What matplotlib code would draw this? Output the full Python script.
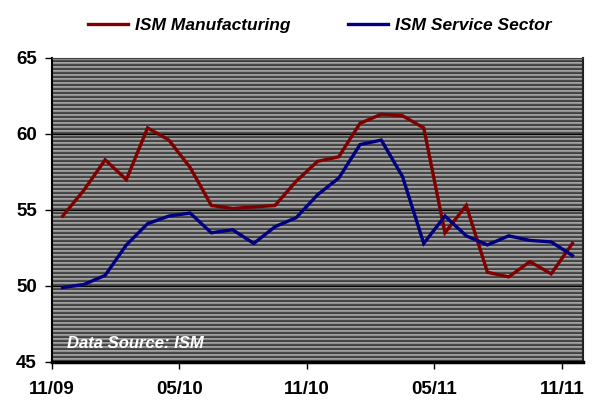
import numpy as np
import matplotlib
matplotlib.use("Agg")
import matplotlib.pyplot as plt

plt.rcParams['font.family'] = ['Liberation Sans', 'DejaVu Sans']

# monthly readings, Nov 2009 .. Nov 2011
manufacturing = [54.6, 56.3, 58.3, 57.0, 60.4, 59.6, 57.8, 55.3, 55.1, 55.2,
                 55.3, 56.9, 58.2, 58.5, 60.7, 61.3, 61.2, 60.4, 53.5, 55.3,
                 50.9, 50.6, 51.6, 50.8, 52.8]
services = [49.9, 50.1, 50.7, 52.7, 54.1, 54.6, 54.8, 53.5, 53.7, 52.8,
            53.9, 54.5, 56.0, 57.1, 59.3, 59.6, 57.2, 52.8, 54.6, 53.3,
            52.7, 53.3, 53.0, 52.9, 52.0]
tick_labels = ['11/09', '05/10', '11/10', '05/11', '11/11']

fig = plt.figure(figsize=(5.98, 4.0), dpi=100)
ax = fig.add_axes([0.087, 0.095, 0.888, 0.76])

# striped grey plot background
pattern = np.array([0.64, 0.56, 0.30, 0.25])
stripes = np.tile(pattern, 76)[:, None]
ax.imshow(stripes, cmap='gray', vmin=0, vmax=1, aspect='auto',
          extent=[0, 1, 0, 1], transform=ax.transAxes,
          interpolation='nearest', zorder=0)

for yv in [50, 55, 60]:
    ax.axhline(yv, color='black', lw=0.8, zorder=1)

x = np.arange(len(manufacturing))
ax.plot(x, manufacturing, color='#800000', lw=2.4, label='ISM Manufacturing',
        zorder=3, solid_joinstyle='miter')
ax.plot(x, services, color='#000080', lw=2.4, label='ISM Service Sector',
        zorder=3, solid_joinstyle='miter')

ax.set_xlim(-0.5, len(x) - 0.5)
ax.set_ylim(45, 65)
ax.set_yticks([45, 50, 55, 60, 65])
ax.set_xticks([-0.5, 5.5, 11.5, 17.5, 23.5])
ax.set_xticklabels(tick_labels)
ax.tick_params(axis='both', direction='out', length=5, width=1,
               labelsize=13.5, color='black')
ax.tick_params(axis='x', pad=9)
ax.tick_params(axis='y', pad=6)
for lab in ax.get_xticklabels() + ax.get_yticklabels():
    lab.set_fontweight('bold')

ax.spines['left'].set_linewidth(1.5)
ax.spines['bottom'].set_linewidth(2.5)
ax.spines['top'].set_color('#404040')
ax.spines['right'].set_color('#202020')
ax.spines['right'].set_linewidth(1.5)

ax.text(0.028, 0.045, 'Data Source: ISM', transform=ax.transAxes,
        color='white', fontsize=12, fontweight='bold', style='italic',
        zorder=4)

leg = fig.legend(loc='upper center', bbox_to_anchor=(0.535, 0.995), ncol=2,
                 frameon=False, handlelength=2.3, handletextpad=0.4,
                 columnspacing=3.3,
                 prop={'weight': 'bold', 'style': 'italic', 'size': 12.5})

fig.savefig('out.png', dpi=100)
